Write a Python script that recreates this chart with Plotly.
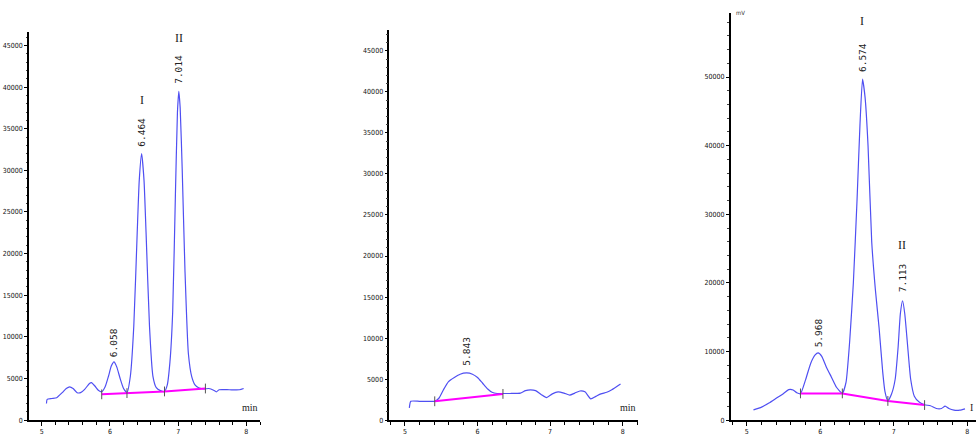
import plotly.graph_objects as go

# ---------------- data ----------------
# Panel 1
p1_time = [5.07, 5.08, 5.15, 5.22, 5.30, 5.36, 5.41, 5.46, 5.52, 5.57, 5.63, 5.70, 5.73, 5.78, 5.83, 5.88,
           5.93, 5.98, 6.02, 6.06, 6.10, 6.15, 6.20, 6.25,
           6.30, 6.35, 6.40, 6.43, 6.465, 6.50, 6.53, 6.58, 6.63, 6.68, 6.74, 6.80,
           6.84, 6.88, 6.92, 6.96, 6.99, 7.01, 7.03, 7.06, 7.10, 7.15, 7.20, 7.25, 7.30,
           7.38, 7.45, 7.52, 7.56, 7.60, 7.75, 7.90, 7.96]
p1_signal = [2000, 2500, 2600, 2700, 3300, 3800, 4000, 3800, 3300, 3300, 3700, 4400, 4500, 4100, 3600, 3400,
             4000, 5300, 6500, 7000, 6400, 5000, 3800, 3300,
             5300, 11300, 22500, 28800, 32000, 28800, 22500, 11300, 5300, 3900, 3550, 3450,
             4200, 7000, 13000, 27000, 37000, 39500, 37500, 30000, 18000, 8000, 5200, 4200, 3900,
             3750, 3800, 3600, 3400, 3650, 3650, 3650, 3800]
p1_base_time = [5.88, 6.25, 6.80, 7.40]
p1_base_signal = [3100, 3250, 3450, 3800]
p1_peak_time = [6.058, 6.464, 7.014]
p1_peak_height = [7000, 32000, 39500]
p1_peak_label = ["6.058", "6.464", "7.014"]
p1_peak_name = ["", "I", "II"]

# Panel 2
p2_time = [5.06, 5.08, 5.20, 5.30, 5.41, 5.47, 5.53, 5.60, 5.68, 5.76, 5.85, 5.93, 6.00, 6.07, 6.14, 6.20,
           6.27, 6.35, 6.45, 6.59, 6.66, 6.73, 6.80, 6.88, 6.95, 7.03, 7.11, 7.19, 7.27, 7.34, 7.41,
           7.48, 7.56, 7.63, 7.70, 7.78, 7.85, 7.97]
p2_signal = [1500, 2300, 2300, 2300, 2300, 2700, 3700, 4700, 5200, 5600, 5750, 5600, 5200, 4500, 3800, 3400,
             3250, 3250, 3250, 3300, 3600, 3700, 3600, 3100, 2750, 3200, 3450, 3300, 3050, 3300, 3550,
             3450, 2600, 2900, 3200, 3400, 3700, 4400]
p2_base_time = [5.41, 6.35]
p2_base_signal = [2300, 3200]
p2_peak_time = [5.843]
p2_peak_height = [5750]
p2_peak_label = ["5.843"]
p2_peak_name = [""]

# Panel 3
p3_time = [5.09, 5.20, 5.30, 5.40, 5.50, 5.57, 5.63, 5.68, 5.73,
           5.80, 5.87, 5.93, 5.97, 6.02, 6.08, 6.15, 6.22, 6.30,
           6.35, 6.40, 6.45, 6.50, 6.54, 6.575, 6.61, 6.65, 6.70, 6.75, 6.80, 6.85, 6.88, 6.92,
           6.97, 7.02, 7.06, 7.09, 7.12, 7.15, 7.19, 7.23, 7.28, 7.35, 7.42,
           7.50, 7.58, 7.65, 7.70, 7.75, 7.82, 7.90, 7.97]
p3_signal = [1500, 1900, 2500, 3200, 3900, 4450, 4400, 4000, 3850,
             5900, 8300, 9500, 9800, 9300, 7800, 6300, 4800, 3900,
             5500, 11500, 20000, 32000, 43000, 49700, 47000, 40000, 26000, 19000, 13500, 7000, 4200, 2800,
             3800, 6000, 10700, 15500, 17400, 15500, 10700, 6000, 3500, 2600, 2250,
             2100, 1700, 1700, 2050, 1700, 1450, 1450, 1650]
p3_base_time = [5.73, 6.30, 6.92, 7.42]
p3_base_signal = [3900, 3900, 2800, 2200]
p3_peak_time = [5.968, 6.574, 7.113]
p3_peak_height = [9800, 49700, 17400]
p3_peak_label = ["5.968", "6.574", "7.113"]
p3_peak_name = ["", "I", "II"]

x_tick_vals = [5, 6, 7, 8]
y_ticks_a = [0, 5000, 10000, 15000, 20000, 25000, 30000, 35000, 40000, 45000]
y_ticks_b = [0, 10000, 20000, 30000, 40000, 50000]

# ---------------- layout ----------------
W, H = 976, 442
BLUE = "#4f4ff2"
MAG = "#ff00ff"
TICKFONT = dict(family="DejaVu Sans Condensed, Liberation Sans Narrow, DejaVu Sans", size=7, color="#111")

panels = [
    dict(t=p1_time, s=p1_signal, bt=p1_base_time, bs=p1_base_signal, pt=p1_peak_time, ph=p1_peak_height,
         pl=p1_peak_label, pn=p1_peak_name, xdom=(29, 260), xr=(4.814, 8.20), top=32, ymax=46650,
         yt=y_ticks_a, ydt=1000, labgap=[3, 5, 5], namegap=[0, 7, 6]),
    dict(t=p2_time, s=p2_signal, bt=p2_base_time, bs=p2_base_signal, pt=p2_peak_time, ph=p2_peak_height,
         pl=p2_peak_label, pn=p2_peak_name, xdom=(389.3, 638.3), xr=(4.784, 8.215), top=30, ymax=47570,
         yt=y_ticks_a, ydt=1000, labgap=[5], namegap=[0]),
    dict(t=p3_time, s=p3_signal, bt=p3_base_time, bs=p3_base_signal, pt=p3_peak_time, ph=p3_peak_height,
         pl=p3_peak_label, pn=p3_peak_name, xdom=(730.7, 976), xr=(4.78, 8.12), top=13, ymax=59350,
         yt=y_ticks_b, ydt=2000, labgap=[4, 5, 6], namegap=[0, 11, 8]),
]

fig = go.Figure()
annotations = []
bottom_px = 424
for i, p in enumerate(panels):
    n = "" if i == 0 else str(i + 1)
    xa, ya = "x" + n, "y" + n
    fig.add_trace(go.Scatter(x=p["t"], y=p["s"], mode="lines", xaxis=xa, yaxis=ya,
                             line=dict(color=BLUE, width=1.2, shape="spline", smoothing=0.5),
                             showlegend=False, hoverinfo="skip"))
    fig.add_trace(go.Scatter(x=p["bt"], y=p["bs"], mode="lines", xaxis=xa, yaxis=ya,
                             line=dict(color=MAG, width=2), showlegend=False, hoverinfo="skip"))
    fig.add_trace(go.Scatter(x=p["bt"], y=p["bs"], mode="markers", xaxis=xa, yaxis=ya,
                             marker=dict(symbol="line-ns", size=7, line=dict(width=1, color="#555")),
                             showlegend=False, hoverinfo="skip"))
    dom = [p["xdom"][0] / W, p["xdom"][1] / W]
    ydom = [(H - bottom_px) / H, (H - p["top"]) / H]
    fig.layout["xaxis" + n] = dict(domain=dom, range=list(p["xr"]), anchor=ya, showline=True,
                                   linecolor="black", linewidth=1.5, tickvals=x_tick_vals,
                                   ticks="outside", ticklen=4, tickcolor="black", tickfont=TICKFONT,
                                   showgrid=False, zeroline=False,
                                   minor=dict(dtick=0.2, tick0=5, ticks="outside", ticklen=3,
                                              tickcolor="black", showgrid=False))
    fig.layout["yaxis" + n] = dict(domain=ydom, range=[0, p["ymax"]], anchor=xa, showline=True,
                                   linecolor="black", linewidth=1.5, tickvals=p["yt"], tickformat="d",
                                   ticks="outside", ticklen=3, tickcolor="black", tickfont=TICKFONT,
                                   showgrid=False, zeroline=False,
                                   minor=dict(dtick=p["ydt"], ticks="outside", ticklen=1.5,
                                              tickcolor="#444", showgrid=False))
    for k, (t, h, lab, name) in enumerate(zip(p["pt"], p["ph"], p["pl"], p["pn"])):
        annotations.append(dict(x=t, y=h, xref=xa, yref=ya, text=lab, showarrow=False, textangle=-90,
                                xanchor="center", yanchor="bottom", yshift=p["labgap"][k],
                                font=dict(family="DejaVu Sans Mono", size=9.5, color="#222")))
        if name:
            annotations.append(dict(x=t, y=h, xref=xa, yref=ya, text=name, showarrow=False,
                                    xanchor="center", yanchor="bottom",
                                    yshift=p["labgap"][k] + 33 + p["namegap"][k],
                                    font=dict(family="Liberation Serif", size=12, color="#222")))
    # "min" axis label near right end of x axis (third one is cut by the picture edge, as in the source)
    annotations.append(dict(x=p["xr"][1], y=0, xref=xa, yref=ya, text="min" if i < 2 else "I",
                            showarrow=False, xanchor="right", yanchor="bottom", yshift=5,
                            xshift=0 if i < 2 else -1,
                            font=dict(family="Liberation Serif", size=10, color="#222")))

# unit label at top of third y axis
annotations.append(dict(x=4.78, y=panels[2]["ymax"], xref="x3", yref="y3", text="mV", showarrow=False,
                        xanchor="left", yanchor="middle", xshift=3,
                        font=dict(family="DejaVu Sans Condensed, DejaVu Sans", size=6, color="#333")))

fig.update_layout(width=W, height=H, autosize=False, margin=dict(l=0, r=0, t=0, b=0),
                  paper_bgcolor="white", plot_bgcolor="white", annotations=annotations)
fig.write_html("out.html", config={"displayModeBar": False},
               post_script="document.body.style.margin='0';")
